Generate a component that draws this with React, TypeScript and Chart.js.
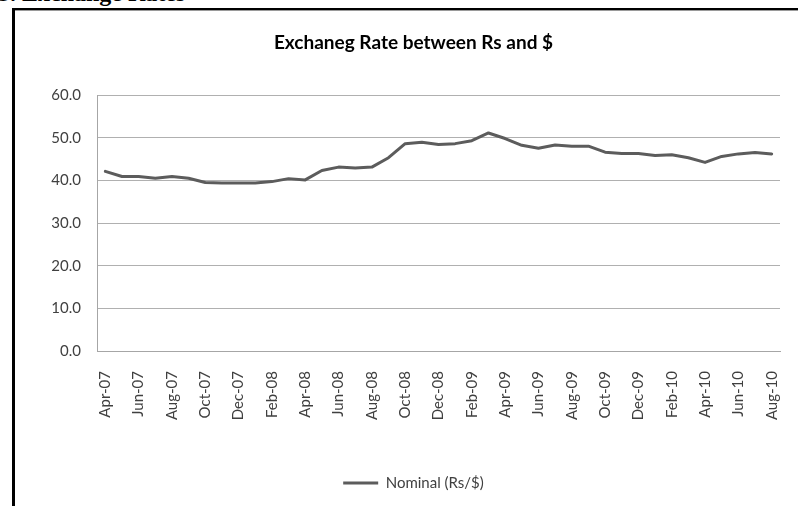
import React, { useEffect, useRef } from "react";
import { Chart, registerables } from "chart.js";

Chart.register(...registerables);

const months: string[] = [
  "Apr-07", "May-07", "Jun-07", "Jul-07", "Aug-07", "Sep-07", "Oct-07", "Nov-07", "Dec-07",
  "Jan-08", "Feb-08", "Mar-08", "Apr-08", "May-08", "Jun-08", "Jul-08", "Aug-08", "Sep-08",
  "Oct-08", "Nov-08", "Dec-08", "Jan-09", "Feb-09", "Mar-09", "Apr-09", "May-09", "Jun-09",
  "Jul-09", "Aug-09", "Sep-09", "Oct-09", "Nov-09", "Dec-09", "Jan-10", "Feb-10", "Mar-10",
  "Apr-10", "May-10", "Jun-10", "Jul-10", "Aug-10",
];

const nominal: number[] = [
  42.1, 40.9, 40.9, 40.5, 40.9, 40.5, 39.5, 39.4, 39.4,
  39.4, 39.7, 40.4, 40.1, 42.3, 43.1, 42.9, 43.1, 45.3,
  48.6, 48.9, 48.4, 48.6, 49.3, 51.1, 49.8, 48.2, 47.5,
  48.3, 48.0, 48.0, 46.6, 46.3, 46.3, 45.8, 46.0, 45.3,
  44.2, 45.6, 46.2, 46.5, 46.2,
];

const yTicks: number[] = [0, 10, 20, 30, 40, 50, 60];

const seriesName = "Nominal (Rs/$)";
const chartTitle = "Exchaneg Rate between Rs and $";
const headerText = "3. Exchange Rates";

export default function App() {
  const ref = useRef<HTMLCanvasElement | null>(null);

  useEffect(() => {
    if (!ref.current) return;
    const chart = new Chart(ref.current, {
      type: "line",
      data: {
        labels: months,
        datasets: [
          {
            label: seriesName,
            data: nominal,
            borderColor: "#5c5c5c",
            backgroundColor: "#5c5c5c",
            borderWidth: 3,
            pointRadius: 0,
            tension: 0,
            borderJoinStyle: "round",
            borderCapStyle: "round",
          },
        ],
      },
      options: {
        responsive: false,
        animation: false,
        devicePixelRatio: 1,
        layout: { padding: { left: 32, right: 32, top: 0, bottom: 5.5 } },
        plugins: {
          title: {
            display: true,
            text: chartTitle,
            color: "#000000",
            font: { family: "Lato", size: 19, weight: "bold" },
            padding: { top: 20.5, bottom: 40.7 },
          },
          legend: {
            display: true,
            position: "bottom",
            labels: {
              usePointStyle: true,
              pointStyle: "line",
              pointStyleWidth: 35,
              color: "#404040",
              font: { family: "Lato", size: 15 },
              padding: 10,
            },
          },
          tooltip: { enabled: false },
        },
        scales: {
          x: {
            type: "category",
            offset: true,
            grid: { display: false, drawTicks: false },
            border: { display: true, color: "#a6a6a6", width: 1 },
            ticks: {
              autoSkip: false,
              minRotation: 90,
              maxRotation: 90,
              padding: 20,
              color: "#404040",
              font: { family: "Lato", size: 15 },
              callback: (_v: any, i: number) => (i % 2 === 0 ? months[i] : ""),
            },
            afterFit: (s: any) => {
              s.height = 114.5;
            },
          },
          y: {
            min: 0,
            max: 60,
            afterBuildTicks: (s: any) => {
              s.ticks = yTicks.map((v) => ({ value: v }));
            },
            grid: { color: "#b0b0b0", lineWidth: 1, drawTicks: false },
            border: { display: true, color: "#a6a6a6", width: 1 },
            ticks: {
              padding: 16,
              color: "#404040",
              font: { family: "Lato", size: 15 },
              callback: (v: any) => Number(v).toFixed(1),
            },
            afterFit: (s: any) => {
              s.width = 50;
            },
          },
        },
      },
    });
    return () => chart.destroy();
  }, []);

  return (
    <div
      style={{
        position: "fixed",
        left: 0,
        top: 0,
        width: 798,
        height: 506,
        overflow: "hidden",
        background: "#ffffff",
      }}
    >
      <div
        style={{
          position: "absolute",
          left: -2,
          top: -19.5,
          fontFamily: "'Liberation Serif', 'Times New Roman', serif",
          fontWeight: "bold",
          fontSize: 24,
          lineHeight: "24px",
          whiteSpace: "nowrap",
          color: "#000",
        }}
      >
        {headerText}
      </div>
      <div
        style={{
          position: "absolute",
          left: 12,
          top: 8,
          width: 800,
          height: 2,
          background: "#000",
          borderBottom: "1px solid #9a9a9a",
        }}
      />
      <div
        style={{
          position: "absolute",
          left: 12,
          top: 8,
          width: 3,
          height: 520,
          background: "#000",
        }}
      />
      <canvas
        ref={ref}
        width={797}
        height={495}
        style={{ position: "absolute", left: 15, top: 11, width: 797, height: 495 }}
      />
    </div>
  );
}
